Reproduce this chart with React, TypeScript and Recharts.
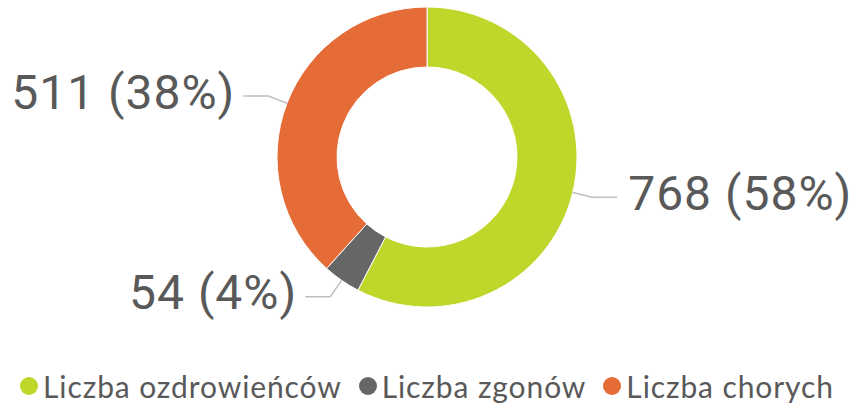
import { PieChart, Pie, Cell, Legend } from "recharts";

const categories = ["Liczba ozdrowieńców", "Liczba zgonów", "Liczba chorych"];
const values = [768, 54, 511];
const colors = ["#BFD62A", "#666666", "#E56B37"];

const data = categories.map((name, i) => ({ name, value: values[i] }));

const RAD = Math.PI / 180;

function renderLabel(props: any) {
  const { cx, cy, midAngle, outerRadius, value, percent } = props;
  const cos = Math.cos(-midAngle * RAD);
  const sin = Math.sin(-midAngle * RAD);
  const sx = cx + outerRadius * cos;
  const sy = cy + outerRadius * sin;
  const mx = cx + (outerRadius + 20) * cos;
  const my = cy + (outerRadius + 20) * sin;
  const dir = cos >= 0 ? 1 : -1;
  const ex = mx + dir * 25;
  return (
    <g>
      <polyline
        points={`${sx},${sy} ${mx},${my} ${ex},${my}`}
        fill="none"
        stroke="#BFBFBF"
        strokeWidth={1.5}
      />
      <text
        x={ex + (dir > 0 ? 11 : -8)}
        y={my - 4}
        textAnchor={dir > 0 ? "start" : "end"}
        dominantBaseline="central"
        fill="#595959"
        fontSize={48}
        fontFamily="Roboto"
        letterSpacing={1}
      >
        {`${value} (${Math.round(percent * 100)}%)`}
      </text>
    </g>
  );
}

function renderLegend() {
  return (
    <div
      style={{
        display: "flex",
        justifyContent: "center",
        gap: 17,
        fontFamily: "Lato",
        fontSize: 30,
        letterSpacing: 0.9,
        color: "#595959",
      }}
    >
      {categories.map((name, i) => (
        <div key={name} style={{ display: "flex", alignItems: "center" }}>
          <span
            style={{
              width: 18,
              height: 18,
              borderRadius: "50%",
              background: colors[i],
              marginRight: 5,
              display: "inline-block",
            }}
          />
          <span>{name}</span>
        </div>
      ))}
    </div>
  );
}

export default function App() {
  return (
    <div style={{ position: "fixed", left: 0, top: 0, background: "#fff" }}>
      <PieChart width={854} height={406} margin={{ top: 0, right: 0, bottom: 0, left: 0 }}>
        <Pie
          data={data}
          dataKey="value"
          nameKey="name"
          cx={427}
          cy={157}
          innerRadius={90}
          outerRadius={150}
          startAngle={90}
          endAngle={-270}
          stroke="#fff"
          strokeWidth={1}
          label={renderLabel}
          labelLine={false}
          isAnimationActive={false}
        >
          {data.map((d, i) => (
            <Cell key={d.name} fill={colors[i]} />
          ))}
        </Pie>
        <Legend
          verticalAlign="bottom"
          content={renderLegend}
          wrapperStyle={{ bottom: 2 }}
        />
      </PieChart>
    </div>
  );
}
